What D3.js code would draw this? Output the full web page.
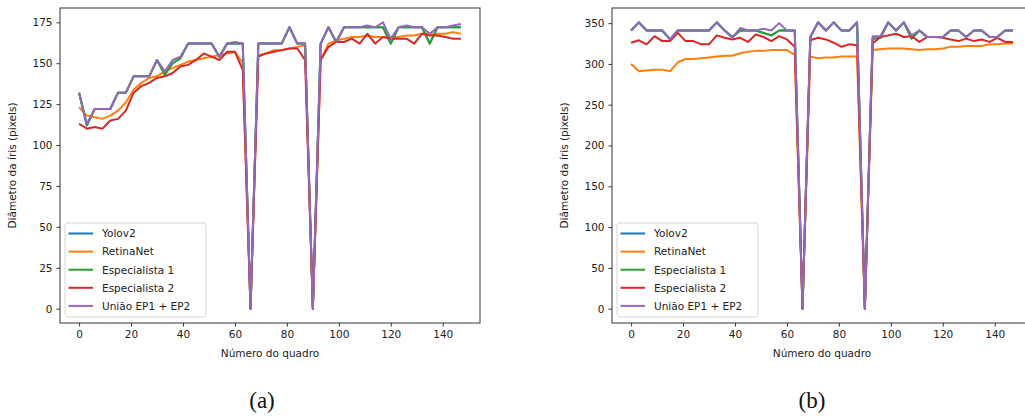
<!DOCTYPE html>
<html>
<head>
<meta charset="utf-8">
<script src="https://cdn.jsdelivr.net/npm/d3@7"></script>
<style>
  body { margin: 0; background: #fff; }
  text { font-family: "DejaVu Sans", sans-serif; }
</style>
</head>
<body>
<script>
// frame numbers (every 3rd frame)
var frames = [0,3,6,9,12,15,18,21,24,27,30,33,36,39,42,45,48,51,54,57,60,63,66,69,72,75,78,81,84,87,90,93,96,99,102,105,108,111,114,117,120,123,126,129,132,135,138,141,144,147];

var seriesNames = ["Yolov2", "RetinaNet", "Especialista 1", "Especialista 2", "União EP1 + EP2"];
var colors = ["#1f77b4", "#ff7f0e", "#2ca02c", "#d62728", "#9467bd"];

// (a)
var leftYolo   = [132,112,122,122,122,132,132,142,142,142,152,143,150,153,162,162,162,162,154,162,162,162,0,162,162,162,162,172,162,162,0,162,172,163,172,172,172,172,172,172,162,172,172,172,172,162,172,172,172,172];
var leftRetina = [123,118,117,116,118,121,126,134,138,141,142,145,147,149,151,152,153,154,155,156,157,150,0,155,156,158,158,159,160,161,0,152,162,164,165,166,166,167,166,166,166,166,167,167,168,168,168,168,169,168];
var leftEsp1   = [132,112,122,122,122,132,132,142,142,142,152,143,150,153,162,162,162,162,154,162,162,162,0,162,162,162,162,172,162,162,0,162,172,163,172,172,172,172,172,172,162,172,172,172,172,162,172,172,172,172];
var leftEsp2   = [113,110,111,110,115,116,121,132,136,138,141,142,144,148,149,152,156,154,152,157,157,146,0,154,156,157,158,159,159,152,0,152,160,163,163,165,162,168,162,166,165,165,165,162,168,167,167,166,165,165];
var leftUniao  = [132,113,122,122,122,132,132,142,142,142,152,145,152,154,162,162,162,162,154,162,163,162,0,162,162,162,162,172,162,162,0,162,172,163,172,172,172,173,172,175,165,172,173,172,172,168,172,172,173,174];

// (b)
var rightYolo   = [341,351,341,341,341,330,341,341,341,341,341,351,341,333,341,341,341,338,335,341,341,341,0,333,351,341,351,341,341,351,0,331,332,351,341,351,331,341,333,333,333,341,341,333,341,341,333,333,341,341];
var rightRetina = [300,291,292,293,293,291,302,306,306,307,308,309,310,310,313,315,316,316,317,317,317,311,0,309,307,308,308,309,309,309,0,317,318,319,319,319,318,317,318,318,319,321,321,322,322,322,324,324,325,325];
var rightEsp1   = [341,351,341,341,341,330,341,341,341,341,341,351,341,333,341,341,341,338,335,341,341,341,0,333,351,341,351,341,341,351,0,331,332,351,341,351,331,341,333,333,333,341,341,333,341,341,333,333,341,341];
var rightEsp2   = [326,329,324,334,328,328,338,328,328,324,324,335,332,330,332,327,336,333,328,334,330,321,0,329,332,330,326,321,324,323,0,325,333,335,337,333,334,327,333,333,332,330,328,331,328,330,327,332,327,327];
var rightUniao  = [341,351,341,341,341,330,341,341,341,341,341,351,341,332,344,341,341,343,341,350,341,341,0,333,351,341,351,341,341,351,0,334,334,351,341,351,335,341,333,333,333,341,341,333,341,341,333,333,341,341];

var leftYTicks = [0,25,50,75,100,125,150,175];
var rightYTicks = [0,50,100,150,200,250,300,350];
var xTicks = [0,20,40,60,80,100,120,140];

var svg = d3.select("body").append("svg")
            .attr("width", 1025)
            .attr("height", 416);

function drawPanel(left, right, series, yTicks, caption, capX) {
    var top = 8, bottom = 323;
    var all = [].concat.apply([], series);
    var xMin = d3.min(frames), xMax = d3.max(frames);
    var yMin = d3.min(all), yMax = d3.max(all);
    var xPad = (xMax - xMin) * 0.05, yPad = (yMax - yMin) * 0.05;

    var x = d3.scaleLinear().domain([xMin - xPad, xMax + xPad]).range([left, right]);
    var y = d3.scaleLinear().domain([yMin - yPad, yMax + yPad]).range([bottom, top]);

    var g = svg.append("g");

    var line = d3.line()
                 .x(function(d, i) { return x(frames[i]); })
                 .y(function(d) { return y(d); });

    series.forEach(function(s, k) {
        g.append("path")
         .datum(s)
         .attr("d", line)
         .attr("fill", "none")
         .attr("stroke", colors[k])
         .attr("stroke-width", 2)
         .attr("stroke-linejoin", "round");
    });

    // frame
    g.append("rect")
     .attr("x", left).attr("y", top)
     .attr("width", right - left).attr("height", bottom - top)
     .attr("fill", "none")
     .attr("stroke", "#555")
     .attr("stroke-width", 1.2);

    var xAxis = g.append("g")
                 .attr("transform", "translate(0," + bottom + ")")
                 .call(d3.axisBottom(x).tickValues(xTicks).tickSize(3.5).tickPadding(4));
    var yAxis = g.append("g")
                 .attr("transform", "translate(" + left + ",0)")
                 .call(d3.axisLeft(y).tickValues(yTicks).tickSize(3.5).tickPadding(4));

    [xAxis, yAxis].forEach(function(a) {
        a.select(".domain").remove();
        a.selectAll("line").attr("stroke", "#333");
        a.selectAll("text")
         .attr("fill", "#222")
         .style("font-size", "10.5px")
         .style("font-family", "DejaVu Sans, sans-serif");
    });

    g.append("text")
     .attr("x", x(73.5))
     .attr("y", 357)
     .attr("text-anchor", "middle")
     .attr("fill", "#222")
     .style("font-size", "10.5px")
     .text("Número do quadro");

    g.append("text")
     .attr("transform", "translate(" + (left - 44) + "," + ((top + bottom) / 2) + ") rotate(-90)")
     .attr("text-anchor", "middle")
     .attr("fill", "#222")
     .style("font-size", "10.5px")
     .text("Diâmetro da íris (pixels)");

    // legend
    var lx = left + 5, ly = 223;
    var legend = g.append("g").attr("transform", "translate(" + lx + "," + ly + ")");
    legend.append("rect")
          .attr("width", 141).attr("height", 94)
          .attr("rx", 3)
          .attr("fill", "#fff").attr("fill-opacity", 0.8)
          .attr("stroke", "#d6d6d6");
    seriesNames.forEach(function(name, k) {
        var yy = 10.5 + k * 18.1;
        legend.append("line")
              .attr("x1", 3.5).attr("x2", 28)
              .attr("y1", yy).attr("y2", yy)
              .attr("stroke", colors[k]).attr("stroke-width", 2);
        legend.append("text")
              .attr("x", 37).attr("y", yy + 3.8)
              .attr("fill", "#222")
              .style("font-size", "10.5px")
              .text(name);
    });

    svg.append("text")
       .attr("x", capX).attr("y", 408)
       .attr("text-anchor", "middle")
       .attr("fill", "#111")
       .style("font-family", "Liberation Serif, serif")
       .style("font-size", "23px")
       .text(caption);
}

drawPanel(60, 480, [leftYolo, leftRetina, leftEsp1, leftEsp2, leftUniao], leftYTicks, "(a)", 262);
drawPanel(612, 1032, [rightYolo, rightRetina, rightEsp1, rightEsp2, rightUniao], rightYTicks, "(b)", 812);
</script>
</body>
</html>
